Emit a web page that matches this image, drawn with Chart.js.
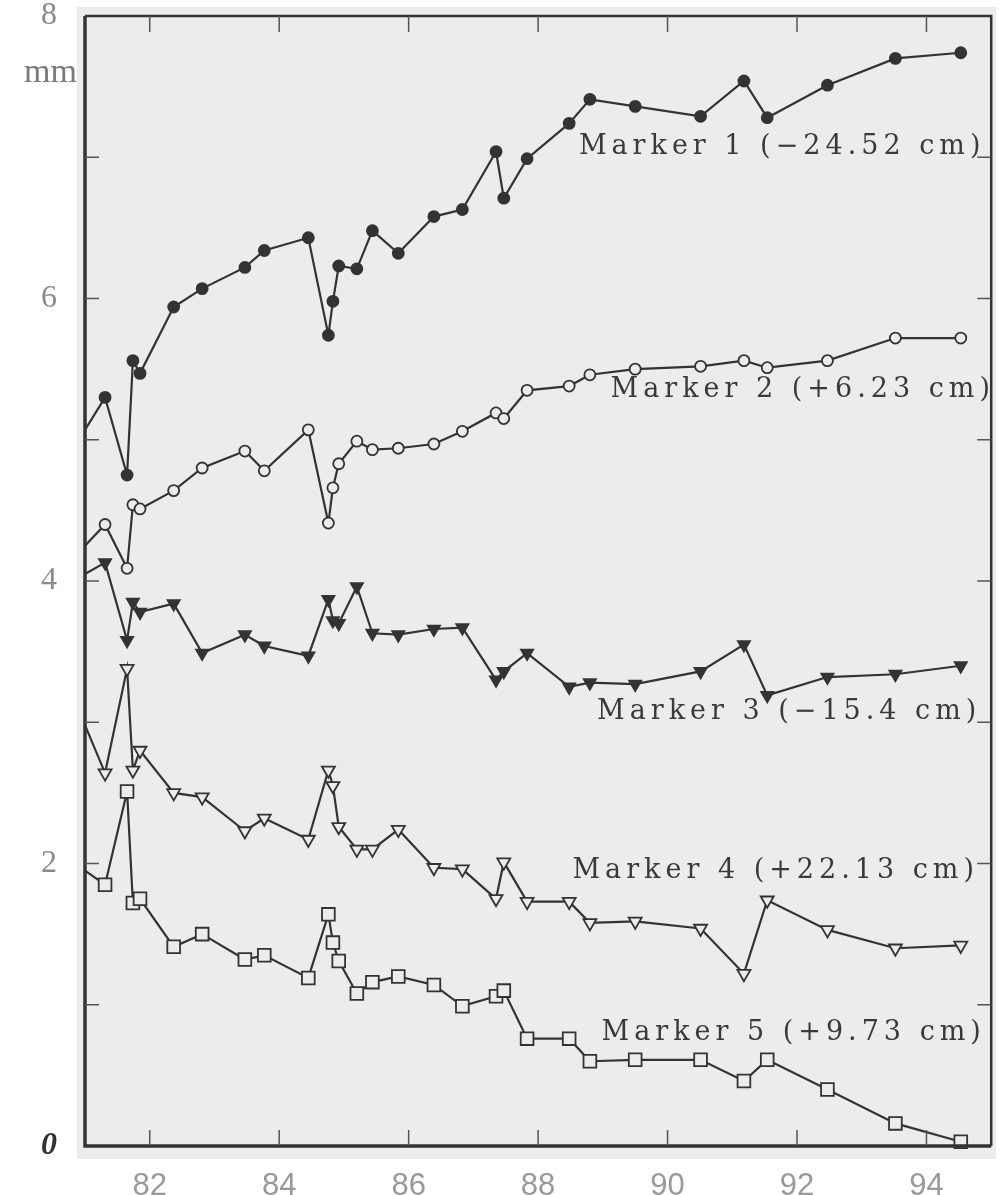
<!DOCTYPE html>
<html>
<head>
<meta charset="utf-8">
<script src="https://cdn.jsdelivr.net/npm/chart.js@4/dist/chart.umd.min.js"></script>
<style>
  html, body { margin: 0; padding: 0; background: #fff; }
  #wrap { width: 1002px; height: 1195px; }
</style>
</head>
<body>
<div id="wrap"><canvas id="chartMarkers" width="1002" height="1195"></canvas></div>
<script>
'use strict'

// survey dates (decimal year, 19xx)
var years = [81.0, 81.31, 81.65, 81.74, 81.85, 82.37, 82.81, 83.47, 83.77, 84.45,
             84.76, 84.83, 84.92, 85.20, 85.44, 85.84, 86.39, 86.83, 87.35, 87.47,
             87.83, 88.48, 88.80, 89.50, 90.51, 91.18, 91.54, 92.47, 93.52, 94.53];

// displacement, mm
var marker1 = [5.07, 5.30, 4.75, 5.56, 5.47, 5.94, 6.07, 6.22, 6.34, 6.43,
               5.74, 5.98, 6.23, 6.21, 6.48, 6.32, 6.58, 6.63, 7.04, 6.71,
               6.99, 7.24, 7.41, 7.36, 7.29, 7.54, 7.28, 7.51, 7.70, 7.74];
var marker2 = [4.25, 4.40, 4.09, 4.54, 4.51, 4.64, 4.80, 4.92, 4.78, 5.07,
               4.41, 4.66, 4.83, 4.99, 4.93, 4.94, 4.97, 5.06, 5.19, 5.15,
               5.35, 5.38, 5.46, 5.50, 5.52, 5.56, 5.51, 5.56, 5.72, 5.72];
var marker3 = [4.05, 4.13, 3.58, 3.85, 3.78, 3.84, 3.49, 3.62, 3.54, 3.47,
               3.87, 3.72, 3.70, 3.96, 3.63, 3.62, 3.66, 3.67, 3.30, 3.36,
               3.49, 3.25, 3.28, 3.27, 3.36, 3.55, 3.19, 3.32, 3.34, 3.40];
var marker4 = [2.98, 2.64, 3.38, 2.66, 2.80, 2.50, 2.47, 2.23, 2.32, 2.17,
               2.66, 2.55, 2.26, 2.10, 2.10, 2.24, 1.97, 1.96, 1.75, 2.01,
               1.73, 1.73, 1.58, 1.59, 1.54, 1.22, 1.74, 1.53, 1.40, 1.42];
var marker5 = [1.95, 1.85, 2.51, 1.72, 1.75, 1.41, 1.50, 1.32, 1.35, 1.19,
               1.64, 1.44, 1.31, 1.08, 1.16, 1.20, 1.14, 0.99, 1.06, 1.10,
               0.76, 0.76, 0.60, 0.61, 0.61, 0.46, 0.61, 0.40, 0.16, 0.03];

var markerNames = ['Marker 1 (\u221224.52 cm)', 'Marker 2 (+6.23 cm)', 'Marker 3 (\u221215.4 cm)',
                   'Marker 4 (+22.13 cm)', 'Marker 5 (+9.73 cm)'];

var xTicks = [82, 84, 86, 88, 90, 92, 94];
var yTicks = [0, 2, 4, 6, 8];
var yMinor = [1, 2, 3, 4, 5, 6, 7];

var ink = '#333333';
var paper = '#ececec';

function pts(vals) {
    return years.map(function (x, i) { return { x: x, y: vals[i] }; });
}

// first value sits on the left axis, no marker there
function rad(r) {
    return function (c) { return c.dataIndex === 0 ? 0 : r; };
}

function series(vals, style, r, filled) {
    return {
        data: pts(vals),
        showLine: true,
        borderColor: ink,
        borderWidth: 2.2,
        pointStyle: style,
        pointRotation: style === 'triangle' ? 180 : 0,
        pointRadius: rad(r),
        pointBorderWidth: 1.8,
        pointBorderColor: ink,
        pointBackgroundColor: filled ? ink : paper,
        clip: false
    };
}

var frame = {
    id: 'frame',
    beforeDraw: function (chart) {
        var c = chart.ctx, a = chart.chartArea;
        c.save();
        c.fillStyle = '#ffffff';
        c.fillRect(0, 0, chart.width, chart.height);
        c.fillStyle = paper;
        c.fillRect(a.left - 8, a.top - 9, a.right - a.left + 13, a.bottom - a.top + 22);
        c.restore();
    },
    afterDraw: function (chart) {
        var c = chart.ctx, a = chart.chartArea;
        var xs = chart.scales.x, ys = chart.scales.y;
        c.save();
        c.strokeStyle = ink;
        // box
        c.lineWidth = 3.5;
        c.beginPath();
        c.moveTo(a.left, a.top); c.lineTo(a.left, a.bottom); c.lineTo(a.right, a.bottom);
        c.stroke();
        c.lineWidth = 2.5;
        c.beginPath();
        c.moveTo(a.left, a.top); c.lineTo(a.right, a.top); c.lineTo(a.right, a.bottom);
        c.stroke();
        // inward ticks
        c.lineWidth = 1.5;
        c.strokeStyle = '#555';
        c.beginPath();
        xTicks.forEach(function (v) {
            var px = xs.getPixelForValue(v);
            c.moveTo(px, a.bottom); c.lineTo(px, a.bottom - 16);
            c.moveTo(px, a.top); c.lineTo(px, a.top + 16);
        });
        yMinor.forEach(function (v) {
            var py = ys.getPixelForValue(v);
            c.moveTo(a.left, py); c.lineTo(a.left + 14, py);
            c.moveTo(a.right, py); c.lineTo(a.right - 14, py);
        });
        c.stroke();
        // unit
        c.fillStyle = '#7a7a7a';
        c.font = '34px "Liberation Serif"';
        c.textAlign = 'right';
        c.textBaseline = 'middle';
        c.fillText('mm', a.left - 8, 73);
        // series labels
        var lx = [88.63, 89.12, 88.91, 88.53, 88.98];
        var ly = [7.07, 5.35, 3.07, 1.95, 0.80];
        c.fillStyle = '#3a3a3a';
        c.font = '27px "DejaVu Serif"';
        c.letterSpacing = '5px';
        c.textAlign = 'left';
        markerNames.forEach(function (t, i) {
            c.fillText(t, xs.getPixelForValue(lx[i]), ys.getPixelForValue(ly[i]));
        });
        c.restore();
    }
};

var ctx = document.getElementById('chartMarkers');
var lineChart = new Chart(ctx, {
    type: 'scatter',
    data: {
        datasets: [
            series(marker1, 'circle', 5.5, true),
            series(marker2, 'circle', 5.5, false),
            series(marker3, 'triangle', 7, true),
            series(marker4, 'triangle', 7.5, false),
            series(marker5, 'rect', 9, false)
        ]
    },
    options: {
        responsive: false,
        animation: false,
        layout: { padding: { top: 16, right: 5, left: 0, bottom: 0 } },
        plugins: { legend: { display: false }, tooltip: { enabled: false } },
        scales: {
            x: {
                type: 'linear',
                min: 81,
                max: 95,
                grid: { display: false },
                border: { display: false },
                afterBuildTicks: function (s) { s.ticks = xTicks.map(function (v) { return { value: v }; }); },
                afterFit: function (s) { s.height = 49; s.paddingLeft = 0; s.paddingRight = 0; },
                ticks: {
                    autoSkip: false,
                    maxRotation: 0,
                    padding: 14,
                    color: '#999',
                    font: { family: 'Liberation Sans', size: 31 }
                }
            },
            y: {
                min: 0,
                max: 8,
                grid: { display: false },
                border: { display: false },
                afterBuildTicks: function (s) { s.ticks = yTicks.map(function (v) { return { value: v }; }); },
                afterFit: function (s) { s.width = 85; s.paddingTop = 0; s.paddingBottom = 0; },
                ticks: {
                    padding: 20,
                    color: function (c) { return c.tick && c.tick.value === 0 ? '#333' : '#8a8a8a'; },
                    font: function (c) {
                        return c.tick && c.tick.value === 0
                            ? { family: 'Liberation Serif', size: 32, style: 'italic', weight: 'bold' }
                            : { family: 'Liberation Serif', size: 32 };
                    }
                }
            }
        }
    },
    plugins: [frame]
});
</script>
</body>
</html>
